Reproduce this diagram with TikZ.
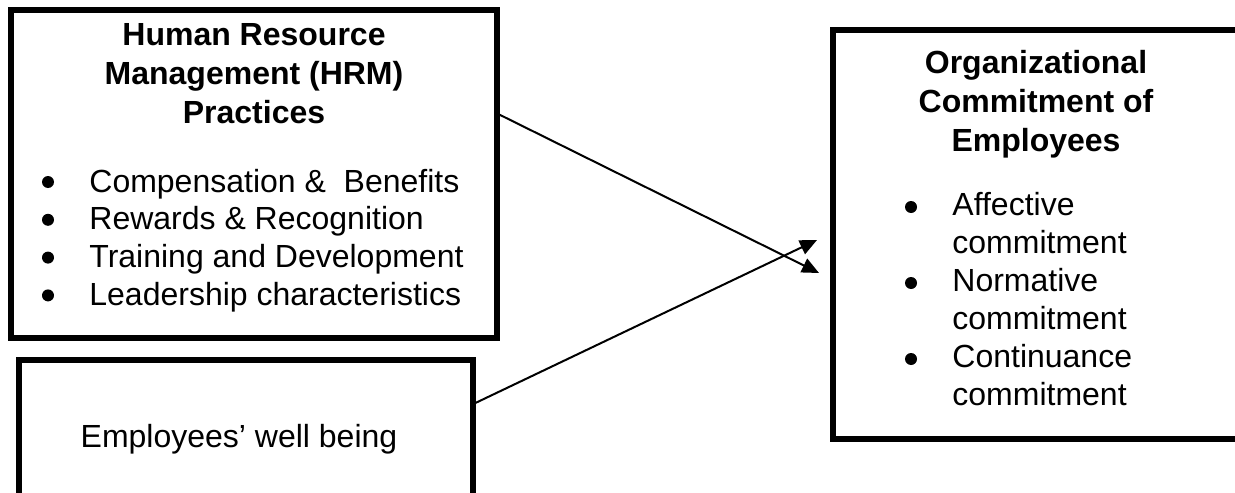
\documentclass[tikz,border=0pt]{standalone}
\usepackage{fontspec}
\setmainfont{Liberation Sans}
\usetikzlibrary{arrows.meta,fit}

\tikzset{
  box/.style={draw, line width=2.8pt, inner sep=0pt, outer sep=0pt},
  title/.style={font=\fontsize{16}{19}\selectfont\bfseries, anchor=base, inner sep=0pt},
  item/.style={font=\fontsize{16}{19}\selectfont, anchor=base west, inner sep=0pt},
  dot/.style={circle, fill, inner sep=0pt, minimum size=6pt},
  link/.style={-{Triangle[length=8.5pt,width=7.5pt]}, line width=1pt},
}

\begin{document}
\begin{tikzpicture}[x=0.5pt, y=-0.5pt]
        \useasboundingbox (0,0) rectangle (1235,492);
        % boxes
        \node [box, fit={(11,10) (497,338)}] (hrm) {};
        \node [box, fit={(19,360) (473,496)}] (wb) {};
        \node [box, fit={(833,30) (1242,439)}] (oce) {};
        % titles
        \foreach \t [count=\i from 0] in {Human Resource, Management (HRM), Practices}
          \node [title] (hrm-title-\i) at (254,46+38.5*\i) {\t};
        \foreach \t [count=\i from 0] in {Organizational, Commitment of, Employees}
          \node [title] (oce-title-\i) at (1036,74+38.5*\i) {\t};
        % practices
        \foreach \t [count=\i from 0] in {Compensation \&\ \ Benefits, Rewards \& Recognition, Training and Development, Leadership characteristics} {
          \node [dot] (hrm-dot-\i) at (48,182+37.8*\i) {};
          \node [item] (hrm-item-\i) at (89,192+37.8*\i) {\t};
        }
        % kinds of commitment
        \foreach \t/\y [count=\i] in {Affective/215, Normative/291, Continuance/367} {
          \node [dot] (oce-dot-\i) at (911,\y-8) {};
          \node [item] (oce-item-\i) at (952,\y) {\t};
          \node [item] (oce-sub-\i) at (952,\y+38) {commitment};
        }
        \node [item, anchor=base] (wb-text) at (239,447) {Employees’ well being};
        % links
        \coordinate (tip-a) at (819,273);
        \coordinate (tip-b) at (817,240);
        \draw [link] (hrm.14.3) -- (tip-a);
        \draw [link] (wb.6.7) -- (tip-b);
\end{tikzpicture}
\end{document}
